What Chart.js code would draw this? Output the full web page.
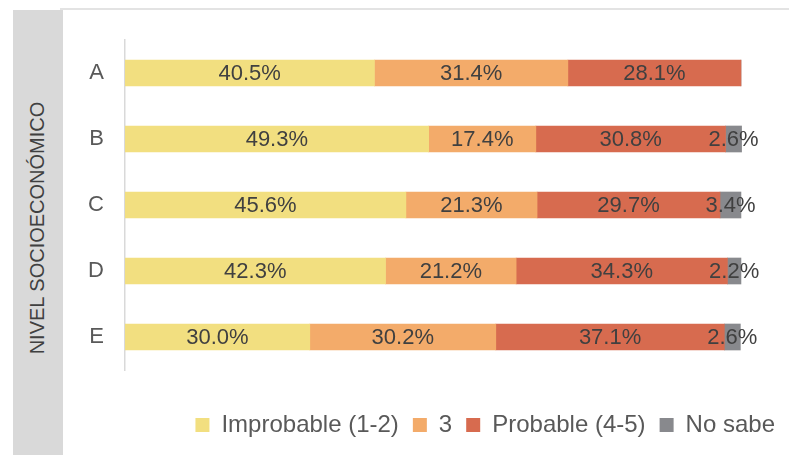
<!DOCTYPE html>
<html lang="es">
  <head>
    <meta charset="UTF-8" />
    <title>Nivel socioeconómico</title>
    <style>
      body { margin: 0; background: #fff; }
      .box { position: relative; width: 789px; height: 455px; overflow: hidden; }
      .panel { position: absolute; left: 13px; top: 10px; width: 50px; height: 445px; background: #d9d9d9; }
      .topline { position: absolute; left: 60px; top: 8px; width: 729px; height: 2px; background: #e3e3e3; }
      .ytitle {
        position: absolute; left: 37px; top: 228px;
        transform: translate(-50%, -50%) rotate(-90deg);
        white-space: nowrap; font: 20px "Liberation Sans", Arial, sans-serif; color: #404040;
      }
      canvas { position: absolute; left: 0; top: 0; }
    </style>
  </head>
  <body>
    <div class="box">
      <div class="panel"></div>
      <div class="topline"></div>
      <div class="ytitle">NIVEL SOCIOECONÓMICO</div>
      <canvas id="chart" width="789" height="455"></canvas>
    </div>
    <script src="https://cdn.jsdelivr.net/npm/chart.js@4/dist/chart.umd.min.js"></script>
    <script>
      const categories = ['A', 'B', 'C', 'D', 'E'];
      const improbable = [40.5, 49.3, 45.6, 42.3, 30.0];
      const tres = [31.4, 17.4, 21.3, 21.2, 30.2];
      const probable = [28.1, 30.8, 29.7, 34.3, 37.1];
      const noSabe = [0, 2.6, 3.4, 2.2, 2.6];

      const font = '"Liberation Sans", Arial, sans-serif';

      // etiquetas de porcentaje en el centro de cada segmento
      const barLabels = {
        id: 'barLabels',
        afterDatasetsDraw(chart) {
          const ctx = chart.ctx;
          ctx.save();
          ctx.font = '22px ' + font;
          ctx.fillStyle = '#404040';
          ctx.textAlign = 'center';
          ctx.textBaseline = 'middle';
          chart.data.datasets.forEach((ds, i) => {
            chart.getDatasetMeta(i).data.forEach((bar, j) => {
              const v = ds.data[j];
              if (!v) return;
              const p = bar.getCenterPoint();
              ctx.fillText(v.toFixed(1) + '%', p.x, p.y + 1);
            });
          });
          ctx.restore();
        }
      };

      new Chart(document.getElementById('chart'), {
        type: 'bar',
        data: {
          labels: categories,
          datasets: [
            { label: 'Improbable (1-2)', data: improbable, backgroundColor: '#f2df80' },
            { label: '3', data: tres, backgroundColor: '#f3ab6a' },
            { label: 'Probable (4-5)', data: probable, backgroundColor: '#d76b4f' },
            { label: 'No sabe', data: noSabe, backgroundColor: '#88898d' }
          ]
        },
        options: {
          indexAxis: 'y',
          responsive: false,
          animation: false,
          barThickness: 26,
          layout: { padding: { top: 40, right: 0, bottom: 8, left: 0 } },
          scales: {
            x: {
              stacked: true,
              min: 0,
              max: 107.8,
              grid: { display: false },
              border: { display: false },
              ticks: { display: false },
              afterFit: s => { s.height = 29; }
            },
            y: {
              stacked: true,
              grid: { display: false },
              border: { display: true, color: '#d9d9d9', width: 1.5 },
              ticks: { color: '#595959', font: { size: 22, family: font }, padding: 13 },
              afterFit: s => { s.width = 125; }
            }
          },
          plugins: {
            legend: {
              position: 'bottom',
              align: 'end',
              labels: {
                color: '#595959',
                font: { size: 24, family: font },
                boxWidth: 14,
                boxHeight: 14,
                padding: 14
              }
            },
            tooltip: { enabled: false }
          }
        },
        plugins: [barLabels]
      });
    </script>
  </body>
</html>
